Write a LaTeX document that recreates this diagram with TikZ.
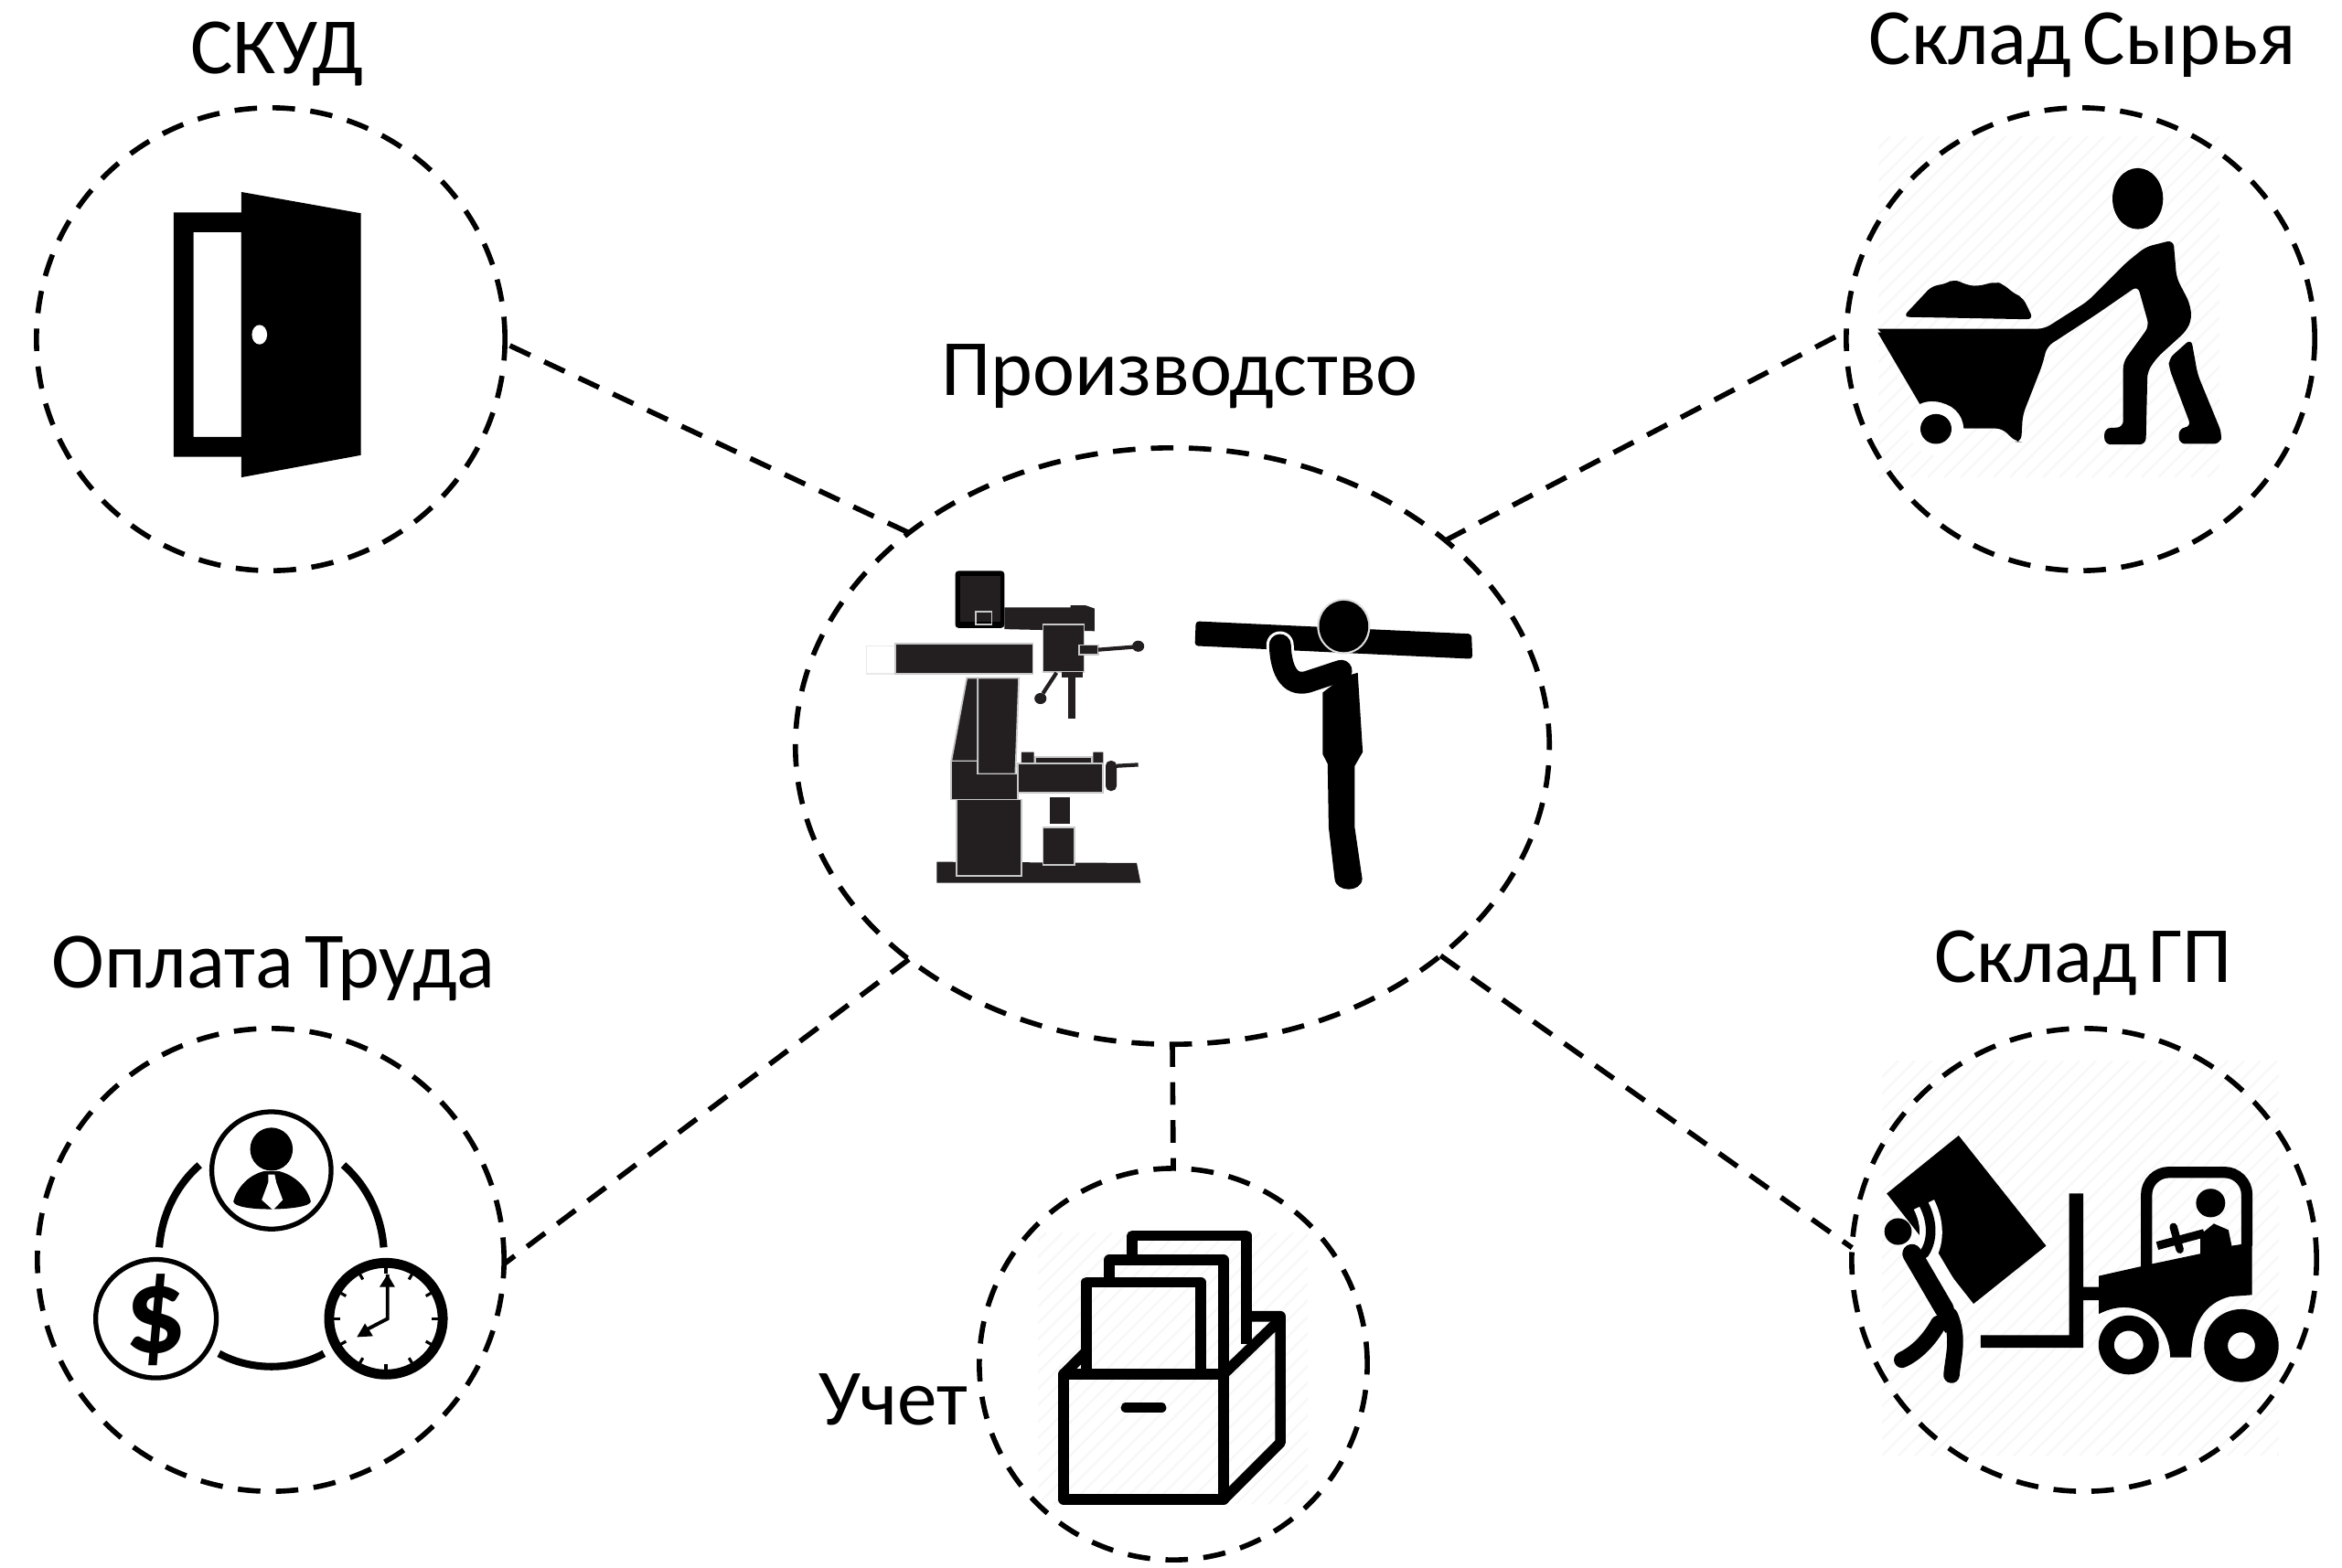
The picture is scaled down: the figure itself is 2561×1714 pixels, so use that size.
\documentclass[tikz,border=0pt]{standalone}
\usepackage{fontspec}
\setmainfont{Carlito}
\usetikzlibrary{shapes.geometric}
\definecolor{ink}{HTML}{231F20}
\definecolor{seam}{HTML}{C8C8C8}
\definecolor{hatchgrey}{HTML}{F8F8F8}
\tikzset{
  hub/.style={ellipse,draw=black,line width=1.6pt,dash pattern=on 7pt off 4.8pt,inner sep=0pt,outer sep=0pt},
  link/.style={draw=black,line width=1.6pt,dash pattern=on 7pt off 4.8pt},
  caption/.style={font=\fontsize{24.8}{28}\selectfont,text=black,inner sep=0pt},
  part/.style={fill=ink,draw=seam,line width=0.5pt},
  hatchline/.style={draw=hatchgrey,line width=0.7pt},
  rim/.style={draw=black,fill=none},
}
\newcommand{\hatchbox}[4]{\begin{scope}\clip (#1,#2) rectangle (#3,#4);
  \foreach \k in {-28,...,28} \draw[hatchline] ({#1+\k*18},#4) -- ++({#4-#2},{#2-#4});
\end{scope}}
\begin{document}
\begin{tikzpicture}[x=0.01cm,y=-0.01cm]
\useasboundingbox (0,0) rectangle (2561,1714);
\fill[white] (0,0) rectangle (2561,1714);
% hatching behind icons
\hatchbox{2054}{149}{2427}{522}
\hatchbox{2058}{1160}{2492}{1592}
\hatchbox{1135}{1348}{1430}{1645}
% hubs
\node[hub,minimum width=8.24cm,minimum height=6.52cm] (prod) at (1282,816) {};
\node[hub,minimum width=5.12cm,minimum height=5.06cm] (skud) at (296,371) {};
\node[hub,minimum width=5.12cm,minimum height=5.06cm] (raw) at (2275,371) {};
\node[hub,minimum width=5.10cm,minimum height=5.06cm] (pay) at (296,1378) {};
\node[hub,minimum width=5.08cm,minimum height=5.06cm] (gp) at (2279,1378) {};
\node[hub,minimum width=4.24cm,minimum height=4.28cm] (acc) at (1283,1492) {};
% connectors
\draw[link,shorten <=0.06cm] (skud.-1) -- (prod.141);
\draw[link] (prod.37) -- (raw.178);
\draw[link] (prod.219) -- (pay.-1);
\draw[link] (prod.-38) -- (gp.177);
\draw[link] (prod.-90) -- (acc.90);
% captions
\node[caption] (tskud) at (303,59) {СКУД};
\node[caption] (traw) at (2277,49) {Склад\hspace{3.5pt}Сырья};
\node[caption] (tprod) at (1290,412) {Производство};
\node[caption] (tpay) at (299,1059) {Оплата\hspace{3.5pt}Труда};
\node[caption] (tgp) at (2278,1053) {Склад\hspace{3.5pt}ГП};
\node[caption] (tacc) at (977,1531) {Учет};
% door
\begin{scope}[shift={(140,180)},x=0.00333cm,y=-0.00333cm]
  \fill[black,even odd rule] (150,157) rectangle (372,960) (215,222) rectangle (372,895);
  \fill[black] (372,90) -- (765,160) -- (765,955) -- (372,1028) -- cycle;
  \fill[white] (432,559) ellipse [x radius=25,y radius=32];
\end{scope}
% milling machine and man with beam
\begin{scope}[shift={(850,480)},x=0.005485cm,y=-0.004337cm]
  \draw[seam!40,line width=0.4pt] (235,523) -- (178,523) -- (178,593) -- (235,593);
  \fill[black,rounded corners=1pt] (355,333) rectangle (453,477);
  \fill[ink] (365,347) rectangle (445,462);
  \draw[seam,line width=0.5pt] (396,436) rectangle (428,468);
  \fill[ink] (453,425) -- (585,425) -- (585,420) -- (615,420) -- (633,428) -- (633,485) -- (453,480) -- cycle;
  \draw[part] (530,468) rectangle (612,588);
  \draw[part] (235,517) rectangle (510,593);
  \draw[part] (602,520) rectangle (640,545);
  \draw[ink,line width=1.2pt] (640,532) -- (720,524);
  \fill[ink] (720,523) ellipse [x radius=12,y radius=14];
  \fill[ink] (568,588) rectangle (610,602);
  \draw[ink,line width=2.2pt] (588,600) -- (588,705);
  \draw[ink,line width=1.2pt] (557,590) -- (530,642);
  \fill[ink] (525,655) ellipse [x radius=12,y radius=14];
  \draw[part] (378,603) -- (400,603) -- (400,813) -- (347,813) -- cycle;
  \draw[part] (400,603) -- (482,603) -- (475,845) -- (400,845) -- cycle;
  \draw[part] (347,813) -- (400,813) -- (400,845) -- (480,845) -- (480,910) -- (347,910) -- cycle;
  \fill[ink] (487,790) rectangle (512,818) (630,790) rectangle (650,818);
  \draw[part] (515,802) rectangle (628,820);
  \draw[part] (480,818) rectangle (650,893);
  \fill[ink,rounded corners=1.5pt] (655,812) rectangle (677,888);
  \draw[ink,line width=1.2pt] (677,825) -- (720,822);
  \fill[ink] (543,903) rectangle (583,972);
  \fill[ink] (318,1067) -- (717,1070) -- (725,1120) -- (318,1120) -- cycle;
  \draw[part] (530,980) rectangle (593,1075);
  \draw[part] (357,910) rectangle (487,1102);
  % man
  \fill[black,rounded corners=1pt] (835,460) -- (1385,492) -- (1387,555) -- (833,522) -- cycle;
  \draw[white,line width=8.5pt,line cap=round] (1003,520) .. controls (1005,590) and (1025,630) .. (1065,610) -- (1125,585);
  \fill[seam!60] (1130,473) ellipse [x radius=53,y radius=70];
  \fill[black] (1130,473) ellipse [x radius=49,y radius=65];
  \fill[black] (1088,640) -- (1130,600) -- (1158,590) -- (1168,790) -- (1152,825) -- (1152,980) -- (1167,1110) .. controls (1165,1145) and (1115,1145) .. (1112,1110) -- (1100,980) -- (1098,820) -- (1088,795) -- cycle;
  \draw[black,line width=6.8pt,line cap=round] (1003,520) .. controls (1005,590) and (1025,630) .. (1065,610) -- (1125,585);
\end{scope}
% wheelbarrow
\begin{scope}[shift={(2010,110)},x=0.003534cm,y=-0.003401cm]
  \fill[black,rounded corners=2pt] (200,695) -- (290,595) -- (330,590) -- (358,573) -- (395,592) -- (430,597) -- (485,582) -- (510,590) -- (545,622) -- (570,632) -- (603,703) -- cycle;
  \fill[black,rounded corners=2pt] (122,733) -- (637,733) -- (770,645) -- (890,520) -- (950,470) -- (1035,448) -- (1045,570) -- (1085,650) -- (1092,700) -- (1075,740) -- (985,825) -- (955,870) -- (950,1105) -- (822,1105) -- (822,1052) -- (880,1050) -- (880,840) -- (960,725) -- (925,595) -- (800,685) -- (645,790) -- (630,850) -- (570,1010) -- (565,1097) -- (550,1097) -- (505,1053) -- (390,1053);
  \fill[black] (122,745) -- (252,975) .. controls (290,955) and (370,965) .. (385,1053) -- (505,1053) -- (637,740) -- cycle;
  \fill[white] (302,1055) circle [radius=85];
  \fill[black] (302,1055) circle [radius=48];
  \fill[black] (925,315) ellipse [x radius=78,y radius=98];
  \fill[black,rounded corners=2pt] (1020,830) -- (1090,765) -- (1110,880) -- (1185,1070) -- (1180,1103) -- (1052,1103) -- (1052,1052) -- (1090,1048) -- (1022,860) -- cycle;
\end{scope}
% forklift
\begin{scope}[shift={(2010,1120)},x=0.003534cm,y=-0.00346cm]
  \fill[black] (372,352) -- (642,700) -- (418,883) -- (150,535) -- cycle;
  \fill[black] (185,655) circle [radius=42];
  \draw[white,line width=7pt] (265,570) .. controls (290,620) and (295,680) .. (270,725) -- (360,880);
  \draw[black,line width=3pt,line cap=round] (265,570) .. controls (290,620) and (295,680) .. (265,725);
  \draw[black,line width=6pt,line cap=round] (228,725) -- (328,900);
  \fill[black] (298,930) -- (358,905) -- (350,960) -- (332,975) -- cycle;
  \draw[black,line width=5pt,line cap=round] (310,945) .. controls (280,1000) and (240,1040) .. (197,1060);
  \draw[black,line width=5pt,line cap=round] (345,920) .. controls (375,990) and (355,1050) .. (350,1108);
  \fill[black] (713,535) rectangle (757,1022) (440,982) rectangle (757,1022) (757,830) rectangle (810,872);
  \fill[black] (805,795) -- (970,757) -- (1118,725) -- (1118,665) -- (1160,630) -- (1205,650) -- (1215,700) -- (1278,690) -- (1278,855) -- (1210,860) .. controls (1130,880) and (1090,950) .. (1090,1052) -- (1025,1052) .. controls (1025,950) and (930,850) .. (805,915) -- cycle;
  \draw[black,line width=3.5pt,rounded corners=7pt] (952,765) -- (952,468) -- (1262,468) -- (1262,700);
  \fill[black] (1150,565) circle [radius=45];
  \draw[black,line width=2.6pt] (985,700) -- (1130,660);
  \draw[black,line width=2.4pt,line cap=round] (1035,640) -- (1055,712);
  \fill[black,even odd rule] (897,1013) circle [radius=93] (897,1013) circle [radius=45];
  \fill[black,even odd rule] (1245,1015) circle [radius=115] (1245,1015) circle [radius=42];
\end{scope}
% pay icon
\begin{scope}[shift={(20,1120)},x=0.00352cm,y=-0.00346cm]
  \draw[rim,line width=1.5pt] (785,462) circle [radius=185];
  \draw[rim,line width=1.5pt] (427,930) circle [radius=187];
  \draw[rim,line width=3.1pt] (1140,930) circle [radius=176];
  \draw[black,line width=2.3pt] (437,705) .. controls (445,600) and (490,510) .. (562,445);
  \draw[black,line width=2.3pt] (1133,705) .. controls (1125,600) and (1080,510) .. (1008,445);
  \draw[black,line width=2.3pt] (622,1040) .. controls (720,1095) and (850,1095) .. (948,1040);
  \fill[black] (785,395) ellipse [x radius=66,y radius=68];
  \fill[black] (667,560) .. controls (680,510) and (720,475) .. (760,465) -- (810,465) .. controls (850,475) and (895,510) .. (907,560) .. controls (905,590) and (670,595) .. (667,560) -- cycle;
  \fill[white] (775,475) -- (795,475) -- (800,500) -- (820,555) -- (790,587) -- (755,555) -- (775,500) -- cycle;
  \node[font=\fontsize{38}{40}\selectfont\bfseries,inner sep=0pt] (dollar) at (427,933) {\$};
  \foreach \a in {0,30,...,330}
    \draw[black,line width=0.9pt] ({1140+143*cos(\a)},{930+143*sin(\a)}) -- ({1140+163*cos(\a)},{930+163*sin(\a)});
  \draw[black,line width=1.1pt] (1145,790) -- (1145,930) -- (1085,962);
  \fill[black] (1120,830) -- (1145,790) -- (1168,830) -- cycle;
  \fill[black] (1050,988) -- (1075,945) -- (1100,985) -- cycle;
\end{scope}
% card box
\begin{scope}[shift={(1060,1270)},x=0.00333cm,y=-0.00333cm,line join=round]
  \draw[black,line width=3.3pt] (535,310) -- (535,245) -- (910,245) -- (910,600);
  \draw[black,line width=3.3pt] (460,390) -- (460,325) -- (835,325) -- (835,690);
  \draw[black,line width=3.3pt] (385,690) -- (385,398) -- (760,398) -- (760,690);
  \draw[black,line width=3.3pt] (310,700) rectangle (835,1112);
  \draw[black,line width=3.3pt,line cap=round] (515,810) -- (630,810);
  \draw[black,line width=3.3pt] (835,1112) -- (1022,925) -- (1022,510) -- (925,510);
  \draw[black,line width=3.3pt] (835,700) -- (1022,520);
  \draw[black,line width=3.3pt] (310,700) -- (385,625);
\end{scope}
\end{tikzpicture}
\end{document}
